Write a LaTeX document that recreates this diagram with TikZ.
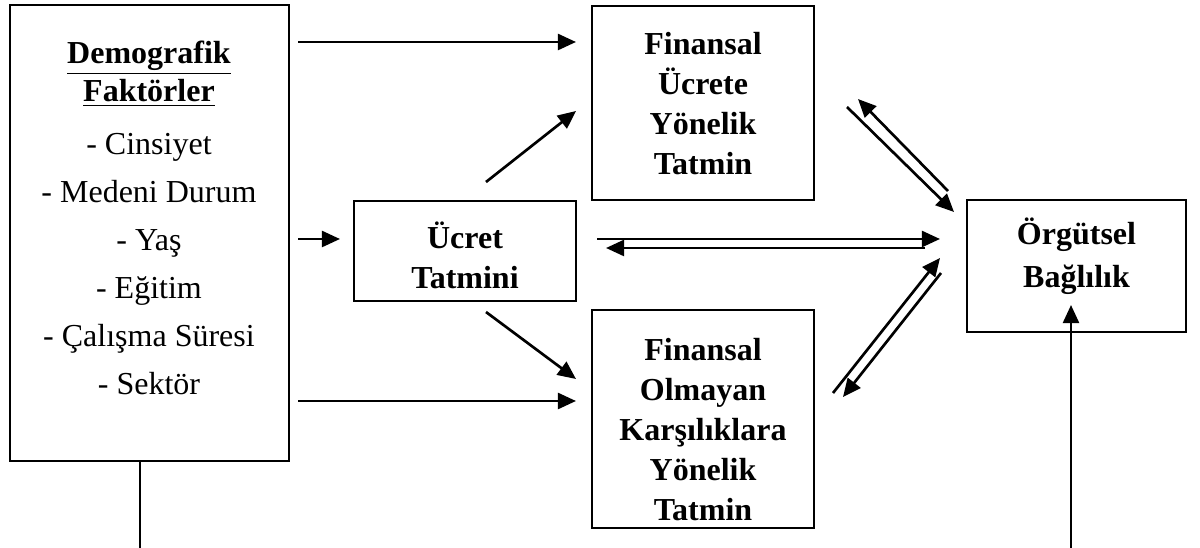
\documentclass[tikz,border=0pt]{standalone}
\usepackage{fontspec}
\setmainfont{Liberation Serif}
\usetikzlibrary{arrows.meta,positioning,calc}

\begin{document}
\begin{tikzpicture}[x=0.375pt,y=-0.375pt,
  box/.style={draw,line width=0.8pt,inner sep=0pt},
  lbl/.style={font=\fontsize{12}{15}\selectfont\bfseries,align=center,inner sep=0pt},
  itm/.style={font=\fontsize{12}{18}\selectfont,align=center,inner sep=0pt},
  arr/.style={-{Triangle[length=6.8pt,width=6pt]},line width=1pt}]
\useasboundingbox (0,0) rectangle (1200,548);
% Kutular
\node[box,minimum width=104.6pt,minimum height=171pt] (demo) at (149.5,233) {};
\node[box,minimum width=83.25pt,minimum height=37.5pt] (ucret) at (465,251) {};
\node[box,minimum width=83.25pt,minimum height=72.75pt] (finu) at (703,103) {};
\node[box,minimum width=83.25pt,minimum height=81.75pt] (finol) at (703,419) {};
\node[box,minimum width=82.1pt,minimum height=49.5pt] (orgb) at (1076.5,266) {};
% Metinler
\node[lbl,font=\fontsize{12}{14.5}\selectfont\bfseries] (demot) at (149,74) {\underline{Demografik}\\\underline{Faktörler}};
\node[itm] (demol) at (149,264) {- Cinsiyet\\- Medeni Durum\\- Yaş\\- Eğitim\\- Çalışma Süresi\\- Sektör};
\node[lbl] (ucrett) at (465,255) {Ücret\\Tatmini};
\node[lbl] (finut) at (703,104) {Finansal\\Ücrete\\Yönelik\\Tatmin};
\node[lbl] (finolt) at (703,430) {Finansal\\Olmayan\\Karşılıklara\\Yönelik\\Tatmin};
\node[lbl,font=\fontsize{12}{16}\selectfont\bfseries] (orgt) at (1076.5,256) {Örgütsel\\Bağlılık};
% Ok uçları
\coordinate (a1) at (298,42);  \coordinate (b1) at (576,42);
\coordinate (a2) at (486,182); \coordinate (b2) at (576,111);
\coordinate (a3) at (298,239); \coordinate (b3) at (340,239);
\coordinate (a4) at (486,312); \coordinate (b4) at (576,379);
\coordinate (a5) at (298,401); \coordinate (b5) at (576,401);
\coordinate (p1) at (847,107); \coordinate (q1) at (954,212);
\coordinate (p2) at (948,191); \coordinate (q2) at (858,99);
\coordinate (p3) at (597,239); \coordinate (q3) at (940,239);
\coordinate (p4) at (925,248); \coordinate (q4) at (606,248);
\coordinate (p5) at (833,393); \coordinate (q5) at (940,258);
\coordinate (p6) at (941,273); \coordinate (q6) at (843,397);
\coordinate (l1) at (140,548);
\coordinate (l2) at (1071,548); \coordinate (l3) at (1071,305);
% Oklar
\foreach \s/\e in {a1/b1,a2/b2,a3/b3,a4/b4,a5/b5,p1/q1,p2/q2,p3/q3,p4/q4,p5/q5,p6/q6,l2/l3}
  \draw[arr] (\s) -- (\e);
\draw[line width=0.8pt] (demo.south -| l1) -- (l1);
\end{tikzpicture}
\end{document}
